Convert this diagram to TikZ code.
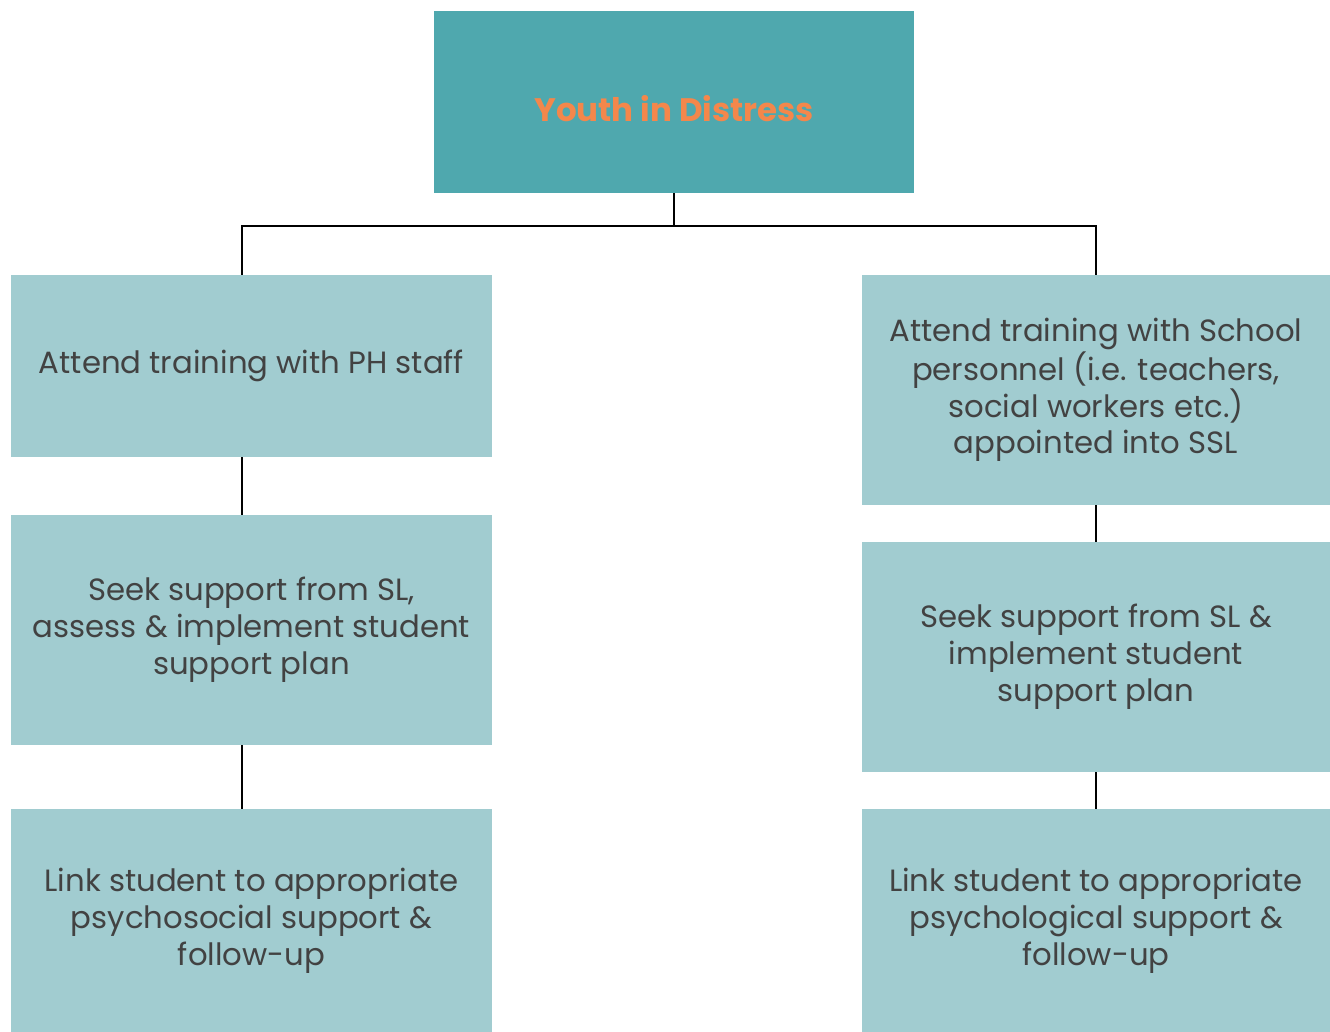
\documentclass[tikz,border=0pt]{standalone}
\usepackage{fontspec}
\setmainfont{Poppins}
\usepackage{xcolor}
\usepackage{tikz}

\definecolor{headfill}{HTML}{4FA8AE}
\definecolor{stepfill}{HTML}{A1CCD0}
\definecolor{headtext}{HTML}{F4874B}
\definecolor{steptext}{HTML}{424242}

\begin{document}
\begin{tikzpicture}[
    x=0.02cm, y=-0.02cm,
    every node/.style={inner sep=0pt, align=center},
    head/.style={fill=headfill, text=headtext, minimum width=9.6cm, minimum height=3.64cm,
        font=\fontsize{18.5}{23}\selectfont\bfseries},
    stepbox/.style={fill=stepfill, text=steptext, font=\fontsize{17.5}{21}\selectfont},
    left/.style={stepbox, minimum width=9.62cm},
    right/.style={stepbox, minimum width=9.36cm},
    link/.style={draw=black, line width=1.1pt}
]
\useasboundingbox (0,0) rectangle (1330,1032);

\node[head] (top) at (674,102) {\raisebox{-0.13cm}[\height][\depth]{Youth in Distress}};

% left branch
\node[left, minimum height=3.64cm] (l1) at (251.5,366) {Attend training with PH staff};
\node[left, minimum height=4.6cm] (l2) at (251.5,630)
    {Seek support from SL,\\assess \& implement student\\support plan};
\node[left, minimum height=4.46cm] (l3) at (251.5,920.5)
    {Link student to appropriate\\psychosocial support \&\\follow-up};

% right branch
\node[right, minimum height=4.6cm] (r1) at (1096,390)
    {Attend training with School\\personnel (i.e. teachers,\\social workers etc.)\\appointed into SSL};
\node[right, minimum height=4.6cm] (r2) at (1096,657)
    {Seek support from SL \&\\implement student\\support plan};
\node[right, minimum height=4.46cm] (r3) at (1096,920.5)
    {Link student to appropriate\\psychological support \&\\follow-up};

\coordinate (jl) at (242,226);
\coordinate (jr) at (1096,226);

\draw[link] (top.south) |- (jl) -- (jl |- l1.north);
\draw[link] (top.south) |- (jr) -- (jr |- r1.north);
\draw[link] (jl |- l1.south) -- (jl |- l2.north);
\draw[link] (jl |- l2.south) -- (jl |- l3.north);
\draw[link] (r1.south) -- (r2.north);
\draw[link] (r2.south) -- (r3.north);

\end{tikzpicture}
\end{document}
